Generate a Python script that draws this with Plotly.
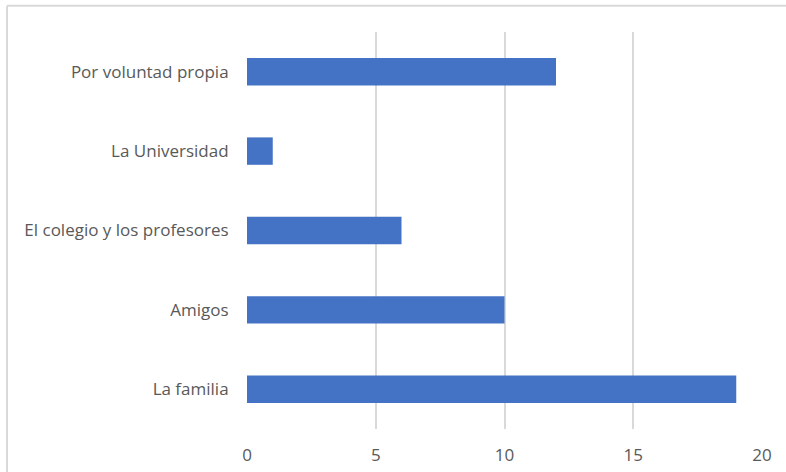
import plotly.graph_objects as go

# Categories listed bottom-to-top as they appear on the horizontal bar chart
categorias = ["La familia", "Amigos", "El colegio y los profesores", "La Universidad", "Por voluntad propia"]
valores = [19, 10, 6, 1, 12]
ticks_x = [0, 5, 10, 15, 20]

fig = go.Figure(
    go.Bar(
        x=valores,
        y=categorias,
        orientation="h",
        marker=dict(color="#4472C4", line=dict(width=0)),
    )
)

fig.update_layout(
    width=786,
    height=472,
    margin=dict(l=247, r=24, t=32, b=43),
    paper_bgcolor="white",
    plot_bgcolor="white",
    showlegend=False,
    bargap=0.655,
    font=dict(family="Open Sans, Noto Sans, sans-serif", size=17, color="#595959"),
    xaxis=dict(
        range=[0, 20],
        tickvals=ticks_x,
        showgrid=True,
        gridcolor="#d9d9d9",
        gridwidth=1.5,
        zeroline=False,
        showline=False,
        ticks="outside",
        ticklen=11,
        tickcolor="rgba(0,0,0,0)",
        automargin=False,
    ),
    yaxis=dict(
        showgrid=False,
        zeroline=False,
        showline=False,
        ticks="outside",
        ticklen=14,
        tickcolor="rgba(0,0,0,0)",
        automargin=False,
    ),
    shapes=[
        # chart frame (top and left edges)
        dict(type="line", xref="paper", yref="paper", x0=-0.466, x1=1.1, y0=1.066, y1=1.066,
             line=dict(color="#d9d9d9", width=2)),
        dict(type="line", xref="paper", yref="paper", x0=-0.466, x1=-0.466, y0=-0.2, y1=1.066,
             line=dict(color="#d9d9d9", width=2)),
    ],
)

fig.write_html("out.html")
